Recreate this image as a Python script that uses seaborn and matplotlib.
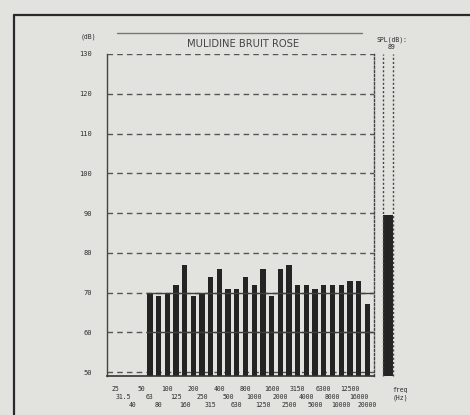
import numpy as np
import pandas as pd
import matplotlib
matplotlib.use("Agg")
import matplotlib.pyplot as plt
import seaborn as sns
from matplotlib.lines import Line2D

# third-octave bands and measured levels (dB), bars only from 63 Hz up
bands = ["25", "31.5", "40", "50", "63", "80", "100", "125", "160", "200",
         "250", "315", "400", "500", "630", "800", "1000", "1250", "1600", "2000",
         "2500", "3150", "4000", "5000", "6300", "8000", "10000", "12500", "16000", "20000"]
measured_bands = bands[4:]
levels = [70, 69, 70, 72, 77, 69, 70, 74, 76, 71,
          71, 74, 72, 76, 69, 76, 77, 72, 72, 71,
          72, 72, 72, 73, 73, 67]
spl_total = 89.5
spl_label = "89"
y_ticks = [50, 60, 70, 80, 90, 100, 110, 120, 130]
title = "MULIDINE BRUIT ROSE"

W, H = 470, 415


def fx(px):
    return px / W


def fy(py):
    return 1 - py / H


sns.set_style("white")
plt.rcParams['font.family'] = ['DejaVu Sans Mono']

paper = "#e2e2df"
ink = "#242424"
grid_col = "#555555"
txt = "#2e2e2e"

fig = plt.figure(figsize=(4.7, 4.15), dpi=100, facecolor=paper)

# main spectrum axes
ax = fig.add_axes([fx(107), fy(376), fx(374) - fx(107), (376 - 54) / H])
ax.set_facecolor(paper)
df = pd.DataFrame({"band": measured_bands, "level": levels})
sns.barplot(data=df, x="band", y="level", order=bands, color=ink, width=0.62,
            saturation=1, edgecolor="none", ax=ax, zorder=2)
ax.set_ylim(49, 130)
ax.set_xlim(-0.92, 29.77)

for v in y_ticks:
    ax.axhline(v, ls=(0, (4, 3)), color=grid_col, lw=1.0, zorder=1)
# solid reference lines through the bar area
ax.hlines([60, 70], 3.6, 29.6, color="#404040", lw=1.0, zorder=3)

ax.set_yticks(y_ticks)
ax.set_yticklabels([str(v) for v in y_ticks], fontsize=5, color=txt)
ax.set_yticks(np.arange(50, 131, 2), minor=True)
ax.tick_params(axis="y", which="both", direction="inout", length=3.5, width=1.0,
               color="#444444", pad=9)
ax.set_xticks(range(len(bands)))
ax.set_xticklabels([])
ax.tick_params(axis="x", direction="inout", length=3.5, width=1.2, color="#333333")
ax.set_xlabel("")
ax.set_ylabel("")

ax.spines["top"].set_visible(False)
ax.spines["left"].set_color("#444444")
ax.spines["left"].set_linewidth(1.0)
ax.spines["bottom"].set_color("#333333")
ax.spines["bottom"].set_linewidth(1.2)
ax.spines["right"].set_linestyle((0, (1.5, 1.5)))
ax.spines["right"].set_color("#444444")
ax.spines["right"].set_linewidth(1.0)

# staggered frequency labels in three rows
for i, b in enumerate(bands):
    row = i % 3
    ax.text(i, -0.03 - row * 0.026, b, transform=ax.get_xaxis_transform(),
            ha="center", va="top", fontsize=4.7, color=txt)

# total SPL column
ax2 = fig.add_axes([fx(374), fy(376), fx(393) - fx(374), (376 - 54) / H])
ax2.set_facecolor("none")
sns.barplot(x=["SPL"], y=[spl_total], color=ink, width=1.0, saturation=1,
            edgecolor="none", ax=ax2)
ax2.set_xlim(-1.45, 0.5)
ax2.set_ylim(49, 130)
ax2.axis("off")
for xv in [-0.5, 0.5]:
    ax2.axvline(xv, ls=(0, (1.5, 1.5)), color="#444444", lw=1.0, clip_on=False)

# texts
fig.text(fx(88), fy(37), "(dB)", ha="center", va="center", fontsize=4.7, color=txt)
fig.text(fx(243), fy(44), title, ha="center", va="center", fontsize=7.2,
         color="#444444", family="DejaVu Sans")
fig.text(fx(392), fy(40), "SPL(dB):", ha="center", va="center", fontsize=4.7, color=txt)
fig.text(fx(391), fy(47), spl_label, ha="center", va="center", fontsize=4.7, color=txt)
fig.text(fx(400), fy(390), "freq", ha="center", va="center", fontsize=4.7, color=txt)
fig.text(fx(400), fy(398), "(Hz)", ha="center", va="center", fontsize=4.7, color=txt)

# rule above title and the page frame
fig.add_artist(Line2D([fx(117), fx(362)], [fy(33), fy(33)], color="#777777", lw=1.0))
fig.add_artist(Line2D([fx(14), fx(14)], [fy(15), 0], color="#2a2a2a", lw=1.6))
fig.add_artist(Line2D([fx(14), 1], [fy(15), fy(15)], color="#2a2a2a", lw=1.6))

fig.savefig("out.png", dpi=100, facecolor=paper)
